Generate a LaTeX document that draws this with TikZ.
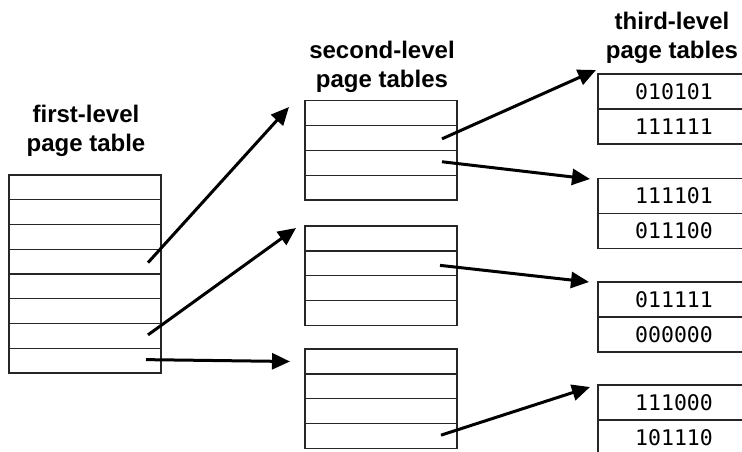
\documentclass[tikz,border=0pt]{standalone}
\usepackage{fontspec}
\setmainfont{Liberation Sans}
\newfontfamily\codefont{DejaVu Sans Mono}
\usetikzlibrary{arrows.meta}
\begin{document}
\begin{tikzpicture}[x=1pt,y=-1pt,
  cell/.style={draw=black!85,line width=1.2pt,minimum width=152pt,inner sep=0pt,outer sep=0pt},
  onecell/.style={cell,minimum height=24.8pt},
  codecell/.style={cell,minimum height=35pt,font=\codefont\fontsize{21.5}{21.5}\selectfont},
  heading/.style={align=center,font=\bfseries\fontsize{24}{29}\selectfont,inner sep=0pt},
  link/.style={line width=3pt,-{Triangle[length=18pt,width=16pt]}}]
\useasboundingbox (0,0) rectangle (742,451);
\clip (0,0) rectangle (742,451);

% headings
\node[heading] (h1) at (86,131) {first-level\\page table};
\node[heading] (h2) at (382,67) {second-level\\page tables};
\node[heading] (h3) at (672,37.5) {third-level\\page tables};

% first-level table: 8 entries
\foreach \i in {1,...,8}
  \node[onecell] (f\i) at (85,{175+24.75*(\i-0.5)}) {};

% second-level tables: three tables of 4 entries
\foreach \t/\top in {A/100.5,B/226,C/349}
  \foreach \i in {1,...,4}
    \node[onecell] (s\t\i) at (381,{\top+24.9*(\i-0.5)}) {};

% third-level tables with their entries
\node[codecell] (t11) at (674,91.5) {010101};
\node[codecell] (t12) at (674,126.5) {111111};
\node[codecell] (t21) at (674,196) {111101};
\node[codecell] (t22) at (674,231) {011100};
\node[codecell] (t31) at (674,299.5) {011111};
\node[codecell] (t32) at (674,334.5) {000000};
\node[codecell] (t41) at (674,402.5) {111000};
\node[codecell] (t42) at (674,437.5) {101110};

% arrow heads stop short of the target tables
\coordinate (e1) at (289,107);
\coordinate (e2) at (296,228);
\coordinate (e3) at (290,361.5);
\coordinate (e4) at (596,70);
\coordinate (e5) at (590,179);
\coordinate (e6) at (589,282);
\coordinate (e7) at (590,387);

\draw[link] ([xshift=-13pt,yshift=-1pt]f4.east) -- (e1);
\draw[link] ([xshift=-13pt,yshift=1pt]f7.east) -- (e2);
\draw[link] ([xshift=-15pt,yshift=1pt]f8.east) -- (e3);
\draw[link] ([xshift=-15pt,yshift=-1pt]sA2.east) -- (e4);
\draw[link] ([xshift=-15pt,yshift=1pt]sA3.east) -- (e5);
\draw[link] ([xshift=-17pt,yshift=-2pt]sB2.east) -- (e6);
\draw[link] ([xshift=-16pt,yshift=1pt]sC4.east) -- (e7);
\end{tikzpicture}
\end{document}
